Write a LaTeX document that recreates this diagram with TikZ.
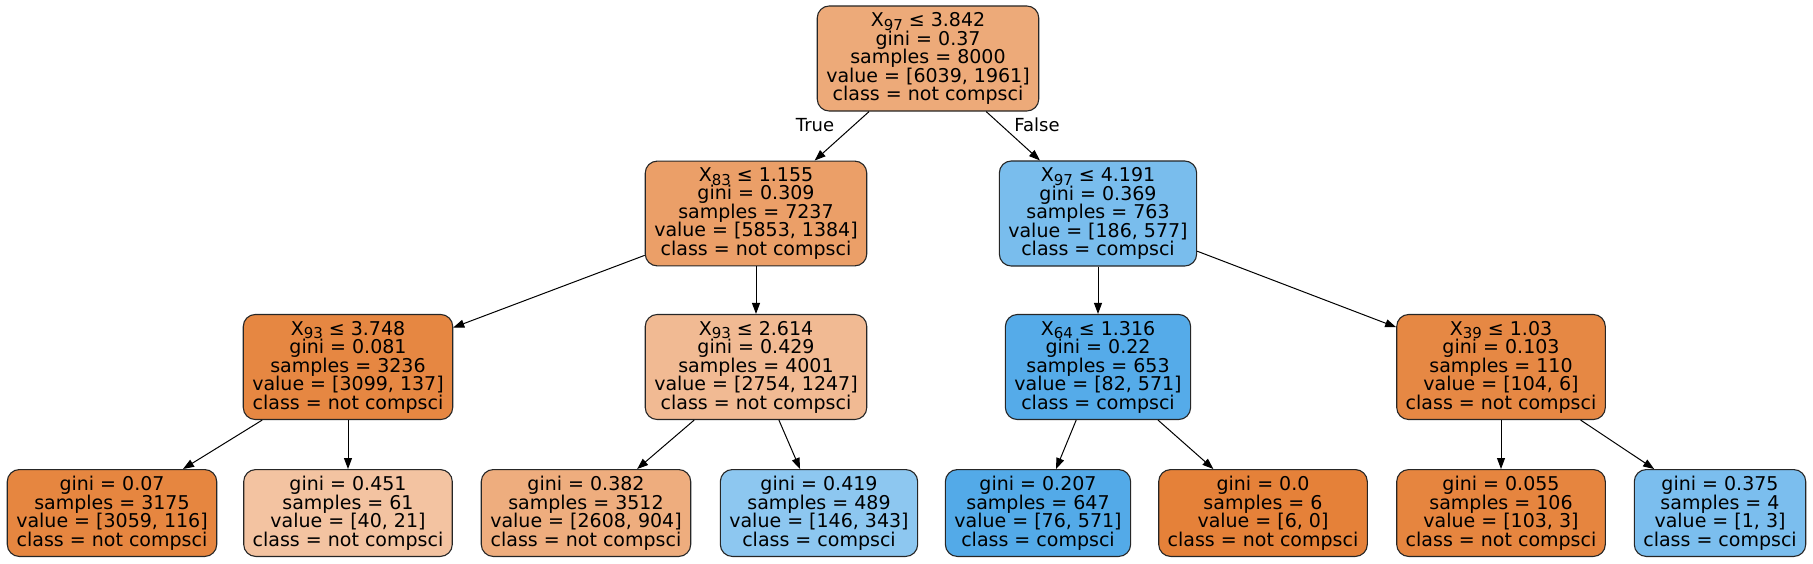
\documentclass[tikz,border=0pt]{standalone}
\usepackage{fontspec}
\setmainfont{DejaVu Sans}
\usetikzlibrary{arrows.meta}

\definecolor{c0}{RGB}{237,170,121}
\definecolor{c1}{RGB}{235,159,104}
\definecolor{c2}{RGB}{121,189,237}
\definecolor{c3}{RGB}{230,135,66}
\definecolor{c4}{RGB}{241,186,147}
\definecolor{c5}{RGB}{85,171,233}
\definecolor{c6}{RGB}{230,136,68}
\definecolor{c7}{RGB}{230,134,64}
\definecolor{c8}{RGB}{243,195,161}
\definecolor{c9}{RGB}{238,173,126}
\definecolor{c10}{RGB}{141,199,240}
\definecolor{c11}{RGB}{83,170,232}
\definecolor{c12}{RGB}{229,129,57}
\definecolor{c13}{RGB}{230,133,63}
\definecolor{c14}{RGB}{123,190,238}

\newcommand{\feat}[1]{X\raisebox{-0.2em}[0pt][0pt]{\fontsize{15}{15}\selectfont #1}}

\tikzset{
  tnode/.style = {rectangle, rounded corners=12pt, draw=black!85, line width=1.1pt,
                  fill=#1, align=center, inner xsep=9pt, inner ysep=6.5pt,
                  font=\fontsize{19}{18.5}\selectfont},
  tnode/.default = white,
  arr/.style = {-{Triangle[length=11pt,width=8pt]}, line width=1pt},
  elabel/.style = {font=\fontsize{18}{18}\selectfont}
}

\begin{document}
\begin{tikzpicture}[x=1pt,y=-1pt]
	\def \ya{58.5}
	\def \yb{213.5}
	\def \yc{367}
	\def \yd{513}
	\useasboundingbox (0,0) rectangle (1813,563);
	
	% Root
	\node[tnode=c0] (root) at (928,\ya) {\feat{97} ≤ 3.842\\gini = 0.37\\samples = 8000\\value = [6039, 1961]\\class = not compsci};
	
	% Level 1
	\node[tnode=c1] (n1) at (756,\yb) {\feat{83} ≤ 1.155\\gini = 0.309\\samples = 7237\\value = [5853, 1384]\\class = not compsci};
	\node[tnode=c2] (n8) at (1098,\yb) {\feat{97} ≤ 4.191\\gini = 0.369\\samples = 763\\value = [186, 577]\\class = compsci};
	
	% Level 2
	\node[tnode=c3] (n2) at (348,\yc) {\feat{93} ≤ 3.748\\gini = 0.081\\samples = 3236\\value = [3099, 137]\\class = not compsci};
	\node[tnode=c4] (n5) at (756,\yc) {\feat{93} ≤ 2.614\\gini = 0.429\\samples = 4001\\value = [2754, 1247]\\class = not compsci};
	\node[tnode=c5] (n9) at (1098,\yc) {\feat{64} ≤ 1.316\\gini = 0.22\\samples = 653\\value = [82, 571]\\class = compsci};
	\node[tnode=c6] (n12) at (1501,\yc) {\feat{39} ≤ 1.03\\gini = 0.103\\samples = 110\\value = [104, 6]\\class = not compsci};
	
	% Leaves
	\node[tnode=c7] (n3) at (112,\yd) {gini = 0.07\\samples = 3175\\value = [3059, 116]\\class = not compsci};
	\node[tnode=c8] (n4) at (348,\yd) {gini = 0.451\\samples = 61\\value = [40, 21]\\class = not compsci};
	\node[tnode=c9] (n6) at (586,\yd) {gini = 0.382\\samples = 3512\\value = [2608, 904]\\class = not compsci};
	\node[tnode=c10] (n7) at (819,\yd) {gini = 0.419\\samples = 489\\value = [146, 343]\\class = compsci};
	\node[tnode=c11] (n10) at (1038,\yd) {gini = 0.207\\samples = 647\\value = [76, 571]\\class = compsci};
	\node[tnode=c12] (n11) at (1263,\yd) {gini = 0.0\\samples = 6\\value = [6, 0]\\class = not compsci};
	\node[tnode=c13] (n13) at (1501,\yd) {gini = 0.055\\samples = 106\\value = [103, 3]\\class = not compsci};
	\node[tnode=c14] (n14) at (1720,\yd) {gini = 0.375\\samples = 4\\value = [1, 3]\\class = compsci};
	
	% Edges
	\draw[arr] (root) -- (n1);
	\draw[arr] (root) -- (n8);
	\draw[arr] (n1) -- (n2);
	\draw[arr] (n1) -- (n5);
	\draw[arr] (n2) -- (n3);
	\draw[arr] (n2) -- (n4);
	\draw[arr] (n5) -- (n6);
	\draw[arr] (n5) -- (n7);
	\draw[arr] (n8) -- (n9);
	\draw[arr] (n8) -- (n12);
	\draw[arr] (n9) -- (n10);
	\draw[arr] (n9) -- (n11);
	\draw[arr] (n12) -- (n13);
	\draw[arr] (n12) -- (n14);
	
	% True / False
	\node[elabel] (t) at (815,125) {True};
	\node[elabel] (f) at (1037,125) {False};
\end{tikzpicture}
\end{document}
